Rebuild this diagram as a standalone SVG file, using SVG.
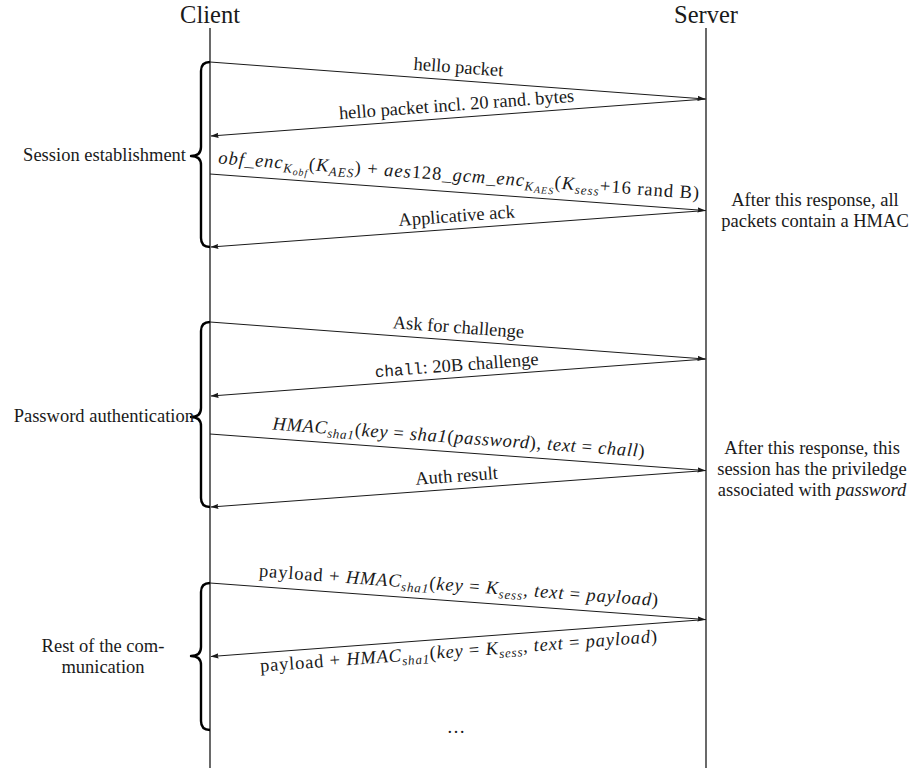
<svg xmlns="http://www.w3.org/2000/svg" width="909" height="771" viewBox="0 0 909 771">
<style>
text{font-family:"Liberation Serif","Times New Roman",serif;fill:#1a1a1a;font-size:18.5px}
.title{font-size:24.5px}
.i{font-style:italic}
.s{font-size:13px}
.ss{font-size:10px}
.mono{font-family:"Liberation Mono","Courier New",monospace;font-size:16px}
.life{stroke:#1a1a1a;stroke-width:1.3;fill:none}
.msg{stroke:#1a1a1a;stroke-width:1;fill:none;marker-end:url(#ah)}
.brace{stroke:#000;stroke-width:2.4;fill:none;stroke-linejoin:round}
</style>
<defs>
<marker id="ah" markerUnits="userSpaceOnUse" viewBox="0 0 8 6" refX="7.5" refY="3" markerWidth="8" markerHeight="6" orient="auto">
<path d="M0,0.4 L8,3 L0,5.6 Q1.6,3 0,0.4 z" fill="#1a1a1a"/>
</marker>
</defs>
<rect width="909" height="771" fill="#fff"/>

<g id="client">
<text class="title" x="210" y="23" text-anchor="middle">Client</text>
<line class="life" x1="210" y1="28" x2="210" y2="768"/>
</g>
<g id="server">
<text class="title" x="706" y="23" text-anchor="middle">Server</text>
<line class="life" x1="706" y1="28" x2="706" y2="768"/>
</g>

<g id="connectors">
<g id="m1"><line class="msg" x1="210" y1="62" x2="705" y2="99"/>
<g transform="translate(457.5,80.5) rotate(4.27)"><text x="0" y="-7.5" text-anchor="middle">hello packet</text></g></g>
<g id="m2"><line class="msg" x1="706" y1="99" x2="211" y2="136"/>
<g transform="translate(457.5,117.5) rotate(-4.27)"><text x="0" y="-7" text-anchor="middle">hello packet incl. 20 rand. bytes</text></g></g>
<g id="m3"><line class="msg" x1="210" y1="174" x2="705" y2="210.5"/>
<g transform="translate(457.5,192.25) rotate(4.22)"><text x="0" y="-11" text-anchor="middle" textLength="482" lengthAdjust="spacing"><tspan class="i">obf_enc</tspan><tspan class="i s" dy="4">K</tspan><tspan class="i ss" dy="2">obf</tspan><tspan dy="-6">(</tspan><tspan class="i">K</tspan><tspan class="i s" dy="4">AES</tspan><tspan dy="-4">) + </tspan><tspan class="i">aes</tspan><tspan>128</tspan><tspan class="i">_gcm_enc</tspan><tspan class="i s" dy="4">K</tspan><tspan class="i ss" dy="2">AES</tspan><tspan dy="-6">(</tspan><tspan class="i">K</tspan><tspan class="i s" dy="4">sess</tspan><tspan dy="-4">+16 rand B)</tspan></text></g></g>
<g id="m4"><line class="msg" x1="706" y1="210.5" x2="211" y2="247"/>
<g transform="translate(457.5,228.75) rotate(-4.22)"><text x="0" y="-7" text-anchor="middle">Applicative ack</text></g></g>

<g id="m5"><line class="msg" x1="210" y1="322" x2="705" y2="359"/>
<g transform="translate(457.5,340.5) rotate(4.27)"><text x="0" y="-7.5" text-anchor="middle">Ask for challenge</text></g></g>
<g id="m6"><line class="msg" x1="706" y1="359" x2="211" y2="396"/>
<g transform="translate(457.5,377.5) rotate(-4.27)"><text x="0" y="-6.5" text-anchor="middle"><tspan class="mono">chall</tspan><tspan>: 20B challenge</tspan></text></g></g>
<g id="m7"><line class="msg" x1="210" y1="434" x2="705" y2="470.5"/>
<g transform="translate(457.5,452.25) rotate(4.22)"><text x="0" y="-9" text-anchor="middle" textLength="373" lengthAdjust="spacing"><tspan class="i">HMAC</tspan><tspan class="i s" dy="4">sha1</tspan><tspan dy="-4">(</tspan><tspan class="i">key</tspan><tspan> = </tspan><tspan class="i">sha1</tspan><tspan>(</tspan><tspan class="i">password</tspan><tspan>), </tspan><tspan class="i">text</tspan><tspan> = </tspan><tspan class="i">chall</tspan><tspan>)</tspan></text></g></g>
<g id="m8"><line class="msg" x1="706" y1="470.5" x2="211" y2="507"/>
<g transform="translate(457.5,488.75) rotate(-4.22)"><text x="0" y="-7" text-anchor="middle">Auth result</text></g></g>

<g id="m9"><line class="msg" x1="210" y1="583" x2="705" y2="619.5"/>
<g transform="translate(457.5,601.25) rotate(4.22)"><text x="0" y="-10" text-anchor="middle" textLength="400" lengthAdjust="spacing"><tspan>payload + </tspan><tspan class="i">HMAC</tspan><tspan class="i s" dy="4">sha1</tspan><tspan dy="-4">(</tspan><tspan class="i">key</tspan><tspan> = </tspan><tspan class="i">K</tspan><tspan class="i s" dy="4">sess</tspan><tspan dy="-4">, </tspan><tspan class="i">text</tspan><tspan> = </tspan><tspan class="i">payload</tspan><tspan>)</tspan></text></g></g>
<g id="m10"><line class="msg" x1="706" y1="619.5" x2="211" y2="656.5"/>
<g transform="translate(457.5,638) rotate(-4.27)"><text x="0" y="19" text-anchor="middle" textLength="398" lengthAdjust="spacing"><tspan>payload + </tspan><tspan class="i">HMAC</tspan><tspan class="i s" dy="4">sha1</tspan><tspan dy="-4">(</tspan><tspan class="i">key</tspan><tspan> = </tspan><tspan class="i">K</tspan><tspan class="i s" dy="4">sess</tspan><tspan dy="-4">, </tspan><tspan class="i">text</tspan><tspan> = </tspan><tspan class="i">payload</tspan><tspan>)</tspan></text></g></g>
</g>

<g id="ellipsis"><text x="456" y="733" text-anchor="middle">…</text></g>

<g id="phase-session">
<path class="brace" d="M210,62 Q201,62 201,71 L201,147 Q201,156 191,156 Q201,156 201,165 L201,238 Q201,247 210,247"/>
<text x="186" y="161" text-anchor="end">Session establishment</text>
</g>
<g id="phase-password">
<path class="brace" d="M210,322 Q201,322 201,331 L201,408 Q201,417 191,417 Q201,417 201,426 L201,498 Q201,507 210,507"/>
<text x="194" y="422" text-anchor="end">Password authentication</text>
</g>
<g id="phase-rest">
<path class="brace" d="M210,583 Q201,583 201,592 L201,647 Q201,656 191,656 Q201,656 201,665 L201,721 Q201,730 210,730"/>
<text x="103" y="652" text-anchor="middle">Rest of the com-</text>
<text x="103" y="673" text-anchor="middle">munication</text>
</g>

<g id="note-hmac">
<text x="815" y="206" text-anchor="middle">After this response, all</text>
<text x="815" y="227" text-anchor="middle">packets contain a HMAC</text>
</g>
<g id="note-privilege">
<text x="812" y="454" text-anchor="middle">After this response, this</text>
<text x="812" y="475" text-anchor="middle">session has the priviledge</text>
<text x="812" y="496" text-anchor="middle">associated with <tspan class="i">password</tspan></text>
</g>
</svg>
